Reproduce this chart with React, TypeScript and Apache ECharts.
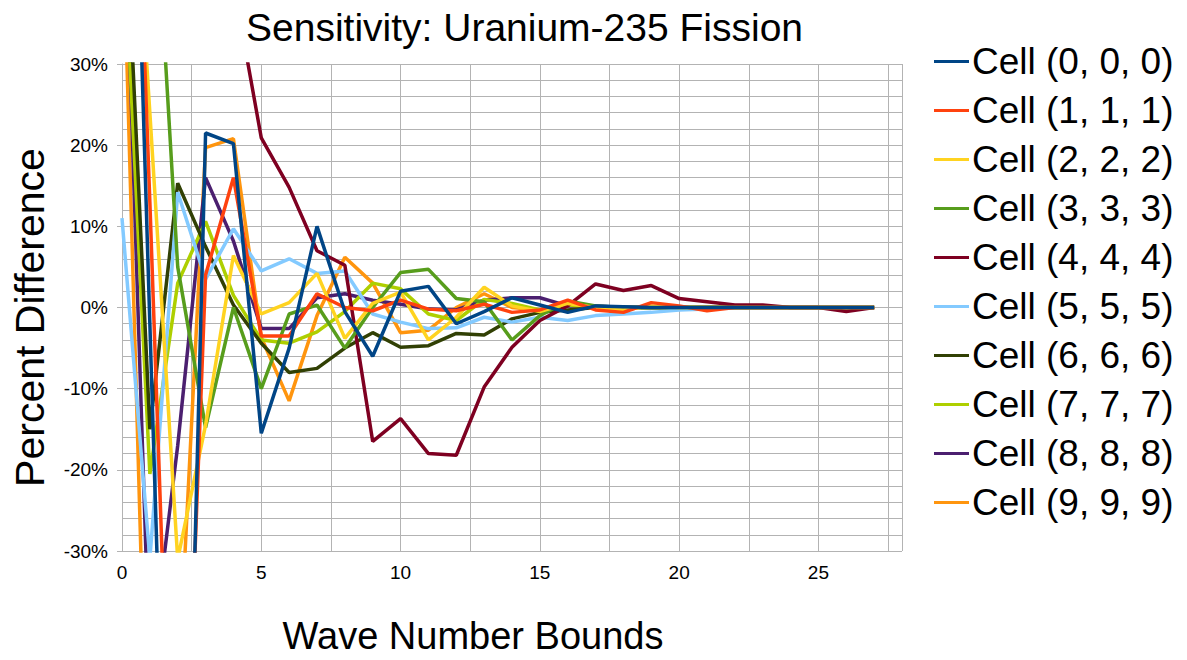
import React, { useEffect, useRef } from "react";
import * as echarts from "echarts";

// Wave number bound index (x axis)
const waveBounds = [0, 1, 2, 3, 4, 5, 6, 7, 8, 9, 10, 11, 12, 13, 14, 15, 16, 17, 18, 19, 20, 21, 22, 23, 24, 25, 26, 27];

const cellNames = [
  "Cell (0, 0, 0)",
  "Cell (1, 1, 1)",
  "Cell (2, 2, 2)",
  "Cell (3, 3, 3)",
  "Cell (4, 4, 4)",
  "Cell (5, 5, 5)",
  "Cell (6, 6, 6)",
  "Cell (7, 7, 7)",
  "Cell (8, 8, 8)",
  "Cell (9, 9, 9)",
];

const cellColors = ["#004586", "#ff420e", "#ffd320", "#579d1c", "#7e0021", "#83caff", "#314004", "#aecf00", "#4b1f6f", "#ff950e"];

// Percent difference per cell
const cell0 = [110, -2, -113, 21.5, 20.2, -15.5, -5, 10, -0.5, -6, 2, 2.6, -2, -0.5, 1.2, 0.3, -0.6, 0.2, 0.1, 0, 0, 0, 0, 0, 0, 0, 0, 0];
const cell1 = [106, 13, -86, 4, 16, -3.5, -3.5, 1.7, 0, -0.4, 0.9, -0.2, -0.4, 0.4, -0.6, -0.3, 0.9, -0.3, -0.6, 0.6, 0.2, -0.4, 0, 0, 0, 0, 0, 0];
const cell2 = [78, 24, -31, -14.5, 6.4, -0.8, 0.6, 4.2, -3.8, 0.5, 1.9, -4, -1.2, 2.5, 0.2, -0.5, 0.5, 0, -0.3, 0.2, 0, 0, 0, 0, 0, 0, 0, 0];
const cell3 = [120, 63, 5, -14.8, 0, -10, -0.8, 0.3, -5, 0, 4.3, 4.7, 1.1, 0.7, -4, -1, 0.8, 0.2, 0, 0, 0, 0, 0, 0, 0, 0, 0, 0];
const cell4 = [200, 150, 110, 70, 40, 20.9, 14.8, 7, 5.2, -16.5, -13.7, -18, -18.2, -9.8, -4.9, -1.6, 0.2, 2.9, 2.1, 2.7, 1.1, 0.7, 0.3, 0.3, 0, 0, -0.5, 0];
const cell5 = [11, -31, 14.2, 3.5, 9.7, 4.5, 6, 4.2, 4.5, -0.8, -1.8, -2.6, -2.5, -1.2, -1.8, -1.2, -1.6, -1, -0.8, -0.6, -0.3, -0.2, 0, 0, 0, 0, 0, 0];
const cell6 = [59, -15, 15.3, 7.5, 0.3, -4.4, -8, -7.5, -5, -3.1, -4.9, -4.7, -3.2, -3.4, -1.4, -0.6, -0.3, 0, 0, 0, 0, 0, 0, 0, 0, 0, 0, 0];
const cell7 = [50, -20.5, 3, 10.6, 1.5, -4, -4.4, -3, -0.5, 3, 2.3, -0.8, -1.6, 1, 0.5, -0.3, 0.3, 0, 0, 0, 0, 0, 0, 0, 0, 0, 0, 0];
const cell8 = [60, -45, -17, 16, 8.2, -2.6, -2.6, 1.2, 1.7, 0.9, 0.4, -0.2, -0.3, 0.9, 1.2, 1.2, 0.2, 0.2, 0, 0, 0, 0, 0, 0, 0, 0, 0, 0];
const cell9 = [51.5, -69, -48, 19.7, 20.8, -3.7, -11.5, -1, 6.2, 3, -3.1, -2.8, 0, 1.7, 0, -0.3, 0.3, 0, 0, 0, 0, 0, 0, 0, 0, 0, 0, 0];

const cellValues = [cell0, cell1, cell2, cell3, cell4, cell5, cell6, cell7, cell8, cell9];

const yTicks = { min: -30, max: 30, step: 10 };

const FONT = "'Liberation Sans', Arial, sans-serif";
const GRID_COLOR = "#b3b3b3";

export default function App() {
  const ref = useRef<HTMLDivElement>(null);

  useEffect(() => {
    document.body.style.margin = "0";
    if (!ref.current) return;
    const chart = echarts.init(ref.current, undefined, { renderer: "svg" });

    // First cell is painted on top, last cell at the bottom
    const series = cellNames.map((name, i) => ({
      name,
      type: "line",
      xAxisIndex: 0,
      z: 2 + (cellNames.length - i),
      data: waveBounds.map((x, k) => [x, cellValues[i][k]]),
      symbol: "none",
      showSymbol: false,
      clip: true,
      lineStyle: { width: 3.5, color: cellColors[i] },
      itemStyle: { color: cellColors[i] },
    }));

    chart.setOption({
      animation: false,
      backgroundColor: "#ffffff",
      title: {
        text: "Sensitivity: Uranium-235 Fission",
        left: 241,
        top: 3,
        textStyle: { fontFamily: FONT, fontSize: 39, fontWeight: "normal", color: "#000" },
      },
      legend: {
        orient: "vertical",
        left: 929,
        top: 38,
        icon: "rect",
        itemWidth: 35,
        itemHeight: 3,
        itemGap: 12,
        data: cellNames,
        textStyle: { fontFamily: FONT, fontSize: 37, color: "#000", lineHeight: 37, padding: [0, 0, 0, -2] },
      },
      grid: { left: 122, top: 64, right: 285, bottom: 109, containLabel: false },
      xAxis: [
        {
          type: "value",
          min: 0,
          max: 28,
          interval: 5,
          name: "Wave Number Bounds",
          nameLocation: "middle",
          nameGap: 66,
          nameTextStyle: { fontFamily: FONT, fontSize: 38, color: "#000", padding: [0, 78, 0, 0] },
          axisLine: { show: true, lineStyle: { color: GRID_COLOR } },
          axisTick: { show: true, length: 5, lineStyle: { color: GRID_COLOR } },
          axisLabel: { fontFamily: FONT, fontSize: 19, color: "#000", margin: 12, showMaxLabel: false },
          splitLine: { show: false },
        },
        {
          type: "value",
          min: 0,
          max: 28,
          interval: 2.5,
          position: "bottom",
          axisLine: { show: false },
          axisTick: { show: false },
          axisLabel: { show: false },
          splitLine: { show: true, lineStyle: { color: GRID_COLOR, width: 1 } },
        },
      ],
      yAxis: {
        type: "value",
        min: yTicks.min,
        max: yTicks.max,
        interval: yTicks.step,
        name: "Percent Difference",
        nameLocation: "middle",
        nameGap: 72,
        nameTextStyle: { fontFamily: FONT, fontSize: 41, color: "#000", padding: [0, 20, 0, 0] },
        axisLine: { show: true, lineStyle: { color: GRID_COLOR } },
        axisTick: { show: true, length: 5, lineStyle: { color: GRID_COLOR } },
        axisLabel: { fontFamily: FONT, fontSize: 19, color: "#000", margin: 14, formatter: "{value}%" },
        splitLine: { show: true, lineStyle: { color: GRID_COLOR, width: 1 } },
        minorTick: { show: false, splitNumber: 5 },
        minorSplitLine: { show: true, lineStyle: { color: GRID_COLOR, width: 1 } },
      },
      series,
    });

    return () => chart.dispose();
  }, []);

  return <div ref={ref} style={{ width: 1187, height: 660 }} />;
}
